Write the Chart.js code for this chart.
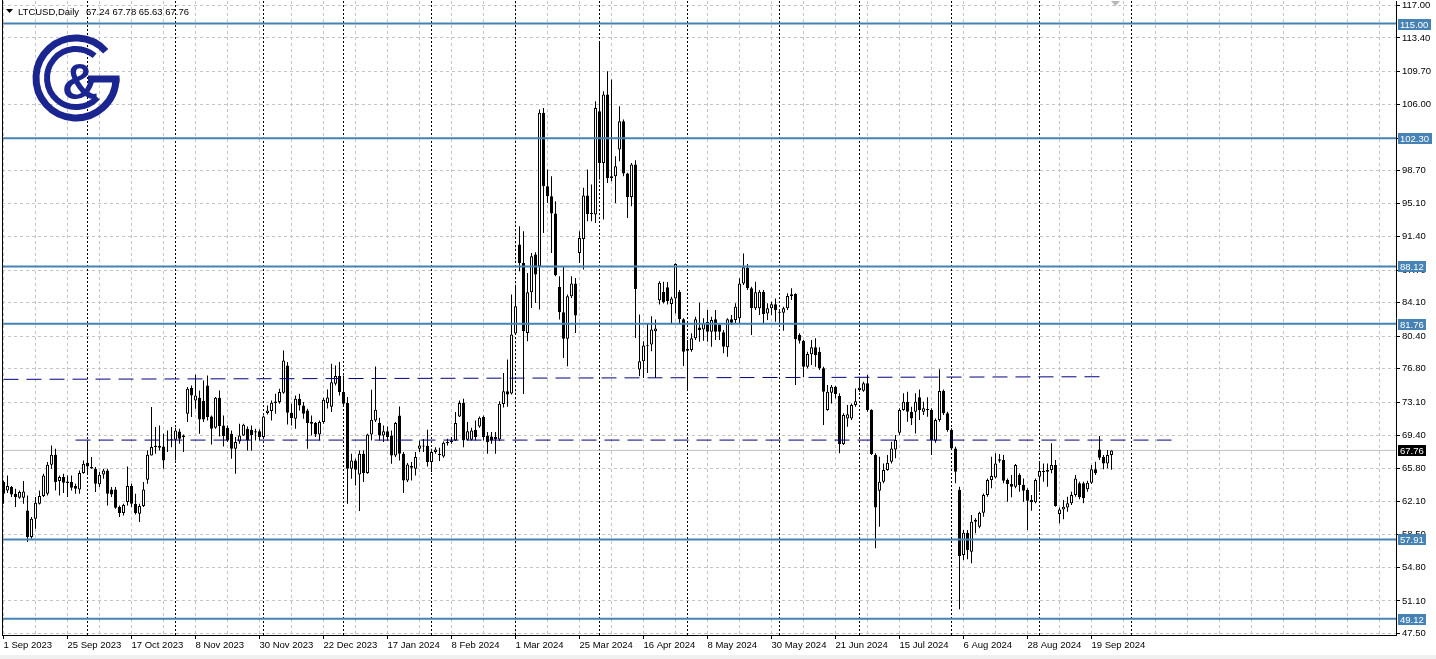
<!DOCTYPE html>
<html lang="en">
<head>
<meta charset="UTF-8">
<title>LTCUSD, Daily</title>
<script src="https://cdn.jsdelivr.net/npm/chart.js"></script>
<style>
  html, body { margin: 0; padding: 0; background: #fff; overflow: hidden; }
  canvas { display: block; }
</style>
</head>
<body>
<canvas id="chart" width="1436" height="659"></canvas>
<script>
// daily candles, 1 Sep 2023 .. 26 Sep 2024 (weekdays only)
const opens = [
  64.25,63.33,63.70,62.96,62.52,62.52,61.12,58.17,60.19,61.86,
  62.70,62.96,66.17,67.28,64.36,64.81,64.33,64.25,63.81,63.44,
  65.25,66.39,65.91,65.73,64.00,65.10,65.54,63.44,63.44,61.49,
  60.82,62.04,63.81,61.86,60.75,61.60,64.51,67.20,68.13,68.27,
  68.20,68.86,68.94,68.94,69.86,69.23,71.81,74.66,73.29,73.58,
  73.22,74.95,71.52,70.26,73.58,70.52,70.26,69.60,67.94,68.75,
  69.42,70.15,70.04,69.89,69.89,69.23,71.89,72.11,72.99,73.11,
  74.14,77.16,71.92,71.26,73.47,72.74,72.18,70.89,70.78,69.53,
  70.89,73.00,72.60,75.13,75.98,74.21,72.99,65.73,66.65,65.10,
  67.39,65.25,69.53,71.08,70.78,69.42,69.89,69.42,67.20,71.63,
  67.39,64.44,65.84,65.73,67.94,68.20,68.27,66.47,67.57,67.32,
  67.09,68.57,68.68,68.86,71.52,72.99,68.94,68.94,70.04,70.41,
  71.45,69.38,69.31,69.23,68.97,72.90,74.31,74.05,80.69,90.54,
  88.51,80.76,85.26,89.43,88.14,105.11,96.99,95.89,93.97,85.85,
  83.05,80.10,84.82,86.22,89.61,91.16,95.96,94.04,93.86,105.29,
  99.57,107.14,98.10,98.10,101.05,104.19,98.39,95.81,99.39,76.70,
  77.62,79.29,79.47,80.95,84.38,85.30,85.80,83.96,84.58,85.32,
  82.26,78.98,78.87,80.16,81.37,81.15,82.00,80.90,82.26,81.63,
  80.82,79.16,82.26,82.19,82.37,86.24,87.98,85.69,83.48,83.48,
  85.32,82.92,83.48,83.92,83.11,82.99,83.48,84.84,85.06,80.53,
  79.90,77.02,78.39,79.16,78.68,76.84,72.23,74.14,74.81,73.78,
  68.46,71.30,71.30,72.78,74.44,74.37,75.18,72.23,67.25,63.30,
  64.29,65.59,66.51,67.87,69.72,72.23,73.15,72.04,72.04,73.63,
  72.04,72.30,72.23,68.83,71.12,74.33,71.86,70.01,67.98,63.37,
  56.18,58.65,56.55,60.06,59.32,60.86,62.82,64.48,64.77,66.62,
  66.69,64.48,64.04,63.74,65.03,63.93,63.37,62.27,62.01,64.85,
  65.37,65.40,65.59,66.14,60.72,61.23,61.45,61.90,62.82,64.11,
  64.11,63.45,64.18,65.66,67.87,67.06,66.32,67.24
];
const highs = [
  64.44,64.99,63.81,63.51,63.33,64.36,62.78,60.38,62.59,63.33,
  65.17,66.47,68.31,67.94,64.99,65.17,64.99,64.99,64.07,65.54,
  66.65,68.86,67.02,65.91,65.36,65.73,65.73,63.70,63.70,61.67,
  61.86,65.99,64.07,62.96,61.86,64.25,67.76,72.55,70.34,70.52,
  69.60,69.97,70.34,70.26,70.15,69.53,74.77,74.95,76.13,74.40,
  75.50,76.06,71.63,73.66,74.40,71.63,70.52,69.97,69.23,70.71,
  70.71,70.41,70.52,70.15,70.08,71.63,72.74,73.29,74.03,74.58,
  78.82,77.53,72.92,73.84,74.03,73.11,72.37,71.63,70.89,71.08,
  73.58,74.50,77.35,77.16,77.53,76.06,73.66,67.39,66.84,67.76,
  67.76,69.60,74.47,77.05,71.37,70.52,70.41,69.97,70.89,72.63,
  67.57,66.36,66.47,67.57,68.86,69.01,70.04,67.94,68.12,68.05,
  68.75,69.05,69.23,72.00,73.29,73.47,70.89,70.26,71.08,71.52,
  71.63,69.79,69.79,69.79,73.20,76.33,77.81,85.00,85.92,92.57,
  92.01,87.40,89.61,89.69,105.48,105.66,98.84,98.10,95.33,87.03,
  88.06,85.00,87.03,86.85,92.01,96.81,98.84,97.18,106.40,112.85,
  107.51,109.72,108.80,100.31,105.85,104.37,98.47,99.57,99.87,82.79,
  79.84,81.87,82.61,82.24,86.48,86.41,86.40,84.77,88.46,85.51,
  82.37,79.97,80.71,82.56,84.10,82.37,83.29,82.56,83.29,81.82,
  81.08,82.37,82.74,84.03,86.80,89.56,88.38,85.88,86.43,85.51,
  85.51,84.03,84.21,84.58,83.29,83.66,85.14,85.69,85.14,80.71,
  79.97,78.68,79.97,80.16,79.16,77.02,74.99,74.99,74.88,74.07,
  71.86,72.78,72.96,74.62,75.91,75.36,76.10,72.30,67.43,67.06,
  66.32,67.25,68.72,69.46,72.41,74.07,74.26,72.60,74.07,74.51,
  73.15,73.63,72.41,71.30,76.73,74.51,72.04,70.20,68.17,63.74,
  58.95,58.95,60.61,60.24,60.97,63.00,64.66,67.06,67.43,67.36,
  67.25,64.66,65.03,66.25,65.22,64.66,63.56,62.82,64.66,66.51,
  66.32,66.32,68.54,66.69,61.45,62.27,62.63,63.19,65.03,64.29,
  64.29,64.40,66.14,66.51,69.35,67.25,67.80,67.78
];
const lows = [
  61.86,63.04,62.59,61.49,62.41,61.86,57.61,57.98,59.09,61.78,
  62.59,62.78,65.73,63.33,62.78,63.04,62.59,63.33,62.96,62.96,
  65.17,65.17,65.73,63.15,63.70,64.62,61.67,62.59,61.30,60.38,
  60.56,61.67,61.49,60.67,59.83,61.49,64.07,67.20,67.39,67.76,
  65.73,67.57,68.12,66.65,68.49,67.57,70.89,71.45,72.37,69.60,
  70.89,71.08,68.42,70.15,69.31,68.20,68.70,66.84,65.17,68.49,
  69.34,67.76,67.76,68.86,68.86,69.12,71.74,71.08,71.81,72.92,
  74.03,70.63,70.52,70.15,72.18,71.26,67.94,69.42,69.23,68.86,
  70.71,72.40,72.00,74.95,73.84,72.74,61.86,64.62,63.88,61.04,
  64.25,65.17,68.86,70.89,68.86,68.68,68.86,66.28,67.02,66.65,
  63.04,64.25,64.44,64.99,67.57,67.57,65.99,65.36,67.39,66.58,
  66.95,68.31,68.49,68.79,71.45,68.12,68.86,68.86,68.86,70.26,
  68.86,67.39,68.49,67.39,68.80,72.50,72.60,73.94,80.58,87.58,
  74.00,79.84,83.53,84.08,83.34,91.83,95.15,89.61,87.03,82.24,
  77.99,77.07,84.63,80.76,88.51,87.77,93.12,93.12,92.93,97.73,
  93.30,97.36,97.55,95.15,99.76,98.10,93.49,94.78,80.21,75.97,
  75.78,76.33,78.73,75.78,83.90,84.01,83.90,81.82,82.92,81.82,
  77.10,74.44,78.68,79.97,79.79,79.90,79.79,79.24,79.97,79.97,
  78.50,78.13,81.63,81.82,81.82,86.06,85.51,80.53,83.29,82.74,
  81.82,82.19,82.74,82.00,81.82,81.00,83.29,84.40,74.99,79.60,
  75.84,76.84,77.21,77.02,76.65,70.57,72.15,72.96,73.52,67.43,
  68.35,70.38,71.12,72.60,74.25,74.25,72.04,67.25,56.92,59.32,
  64.11,65.51,66.32,66.88,69.46,72.15,70.94,70.57,69.64,71.12,
  71.67,71.49,67.25,68.61,70.94,71.67,69.83,67.80,64.11,50.17,
  55.63,55.70,55.26,58.58,59.13,60.42,62.63,63.56,64.66,66.40,
  64.11,62.08,62.56,63.56,63.19,62.08,58.95,61.08,61.90,63.19,
  64.29,63.74,65.22,61.53,59.69,60.13,60.97,61.71,62.63,62.34,
  61.90,63.19,64.04,65.03,66.69,65.66,65.77,65.63
];
const closes = [
  62.96,63.81,62.89,62.59,63.15,63.22,58.17,60.19,61.97,62.70,
  64.99,66.17,67.28,64.25,64.81,64.18,64.14,63.63,63.51,65.25,
  66.28,65.99,65.76,64.07,65.06,65.54,62.96,62.89,61.41,60.82,
  61.71,63.81,61.86,60.82,61.60,63.44,67.28,68.13,68.27,68.05,
  66.65,68.94,69.01,69.97,69.05,69.42,74.58,73.84,73.84,71.19,
  71.19,71.45,70.15,73.58,70.45,69.34,68.86,67.94,68.68,69.42,
  70.60,68.86,69.45,69.75,69.23,71.52,72.18,73.03,73.18,74.21,
  77.72,71.92,71.33,73.47,72.74,71.81,70.78,70.71,69.53,70.89,
  73.36,73.60,75.30,75.98,74.21,72.92,65.73,66.65,65.62,67.39,
  65.25,69.53,71.15,72.26,69.42,69.89,69.23,67.20,70.78,67.39,
  64.44,66.21,66.02,67.02,68.31,68.27,66.47,67.57,67.87,67.24,
  68.60,68.68,68.86,70.78,72.99,68.86,69.89,69.97,69.23,71.37,
  69.23,68.68,68.86,68.97,72.92,74.31,73.94,80.58,83.71,88.51,
  80.95,85.26,89.25,87.22,105.11,96.99,95.89,93.97,87.14,83.05,
  80.10,84.82,86.22,82.68,91.27,95.96,93.93,93.93,105.66,99.57,
  107.14,97.91,97.91,99.20,104.19,98.39,95.77,99.39,85.63,77.62,
  79.36,79.36,81.13,81.24,86.30,84.16,84.30,84.58,88.38,82.26,
  78.68,78.79,80.16,82.26,81.08,81.82,80.90,82.19,80.90,80.90,
  79.24,82.26,81.89,83.66,86.24,88.02,85.69,83.48,85.25,85.32,
  82.85,83.48,83.92,83.29,82.99,83.48,84.84,85.03,80.05,79.90,
  77.02,78.42,79.16,78.31,76.84,74.25,74.25,74.81,74.00,68.46,
  71.67,71.75,72.78,73.19,74.70,75.18,72.23,67.36,61.45,64.29,
  65.59,66.40,67.98,68.91,72.23,73.15,72.04,71.30,73.15,72.23,
  72.41,72.23,68.91,71.12,74.33,71.86,70.01,67.98,65.40,56.07,
  58.65,56.73,59.87,59.87,60.86,62.82,64.48,64.92,66.32,66.77,
  64.40,64.04,63.74,66.14,63.93,63.30,62.19,62.01,64.48,65.48,
  65.48,65.59,66.14,61.60,61.23,61.53,61.90,62.82,64.66,62.56,
  62.45,64.18,65.66,65.22,66.95,66.32,67.25,67.76
];

// axis labels
const dateLabels = ['1 Sep 2023', '25 Sep 2023', '17 Oct 2023', '8 Nov 2023', '30 Nov 2023', '22 Dec 2023',
  '17 Jan 2024', '8 Feb 2024', '1 Mar 2024', '25 Mar 2024', '16 Apr 2024', '8 May 2024',
  '30 May 2024', '21 Jun 2024', '15 Jul 2024', '6 Aug 2024', '28 Aug 2024', '19 Sep 2024'];
const priceTicks = [117.00, 113.40, 109.70, 106.00, 102.30, 98.70, 95.10, 91.40, 87.70, 84.10,
  80.40, 76.80, 73.10, 69.40, 65.80, 62.10, 58.50, 54.80, 51.10, 47.50];

// first bar of each month (period separators)
const monthStarts = [21, 43, 65, 85, 107, 128, 149, 171, 194, 214, 237, 259, 282];

// horizontal levels and the two dashed lines
const levels = [115.00, 102.30, 88.12, 81.76, 57.91, 49.12];
const dashFrom = [0, 18];
const dashTo = [274, 292];
const dashStartValue = [75.62, 68.90];
const dashEndValue = [75.91, 68.90];

const symbol = 'LTCUSD,Daily';
const lastBar = opens.length - 1;
const bid = closes[lastBar];

const barsPerLabel = 16;
const barsPerGrid = 8;
const xMin = -0.375, xMax = 348.125;
const yMin = 47.33, yMax = 117.49;

const FONT = '"Liberation Sans", Arial, sans-serif';
const LEVEL_BLUE = '#4682b4';
const NAVY = '#000080';
const GRID = '#c4c4c4';

const idx = opens.map((_, i) => i);
const isUp = i => closes[i] >= opens[i];
const fmt = v => v.toFixed(2);

const datasets = [];
datasets.push({
  type: 'line', data: [{x: xMin, y: bid}, {x: xMax, y: bid}],
  borderColor: '#c0c0c0', borderWidth: 1, pointRadius: 0, order: 6
});
datasets.push({
  type: 'bar', data: idx.map(i => ({x: i, y: [lows[i], highs[i]]})),
  backgroundColor: '#000', borderWidth: 0, barThickness: 1, inflateAmount: 0,
  grouped: false, minBarLength: 1, order: 5
});
datasets.push({
  type: 'bar', data: idx.map(i => ({x: i, y: [opens[i], closes[i]]})),
  backgroundColor: c => isUp(c.dataIndex) ? '#fff' : '#000',
  borderColor: '#000', borderWidth: 1, borderSkipped: false,
  barThickness: 3, inflateAmount: 0, grouped: false, minBarLength: 1, order: 4
});
dashFrom.forEach((f, k) => {
  datasets.push({
    type: 'line', data: [{x: f, y: dashStartValue[k]}, {x: dashTo[k], y: dashEndValue[k]}],
    borderColor: NAVY, borderWidth: 1, borderDash: [15, 8], pointRadius: 0, order: 2
  });
});
levels.forEach(v => {
  datasets.push({
    type: 'line', data: [{x: xMin, y: v}, {x: xMax, y: v}],
    borderColor: LEVEL_BLUE, borderWidth: 2, pointRadius: 0, order: 1
  });
});

function drawLogo(ctx) {
  const cx = 76, cy = 78, col = '#1b2590';
  const rad = d => d * Math.PI / 180;
  ctx.save();
  ctx.strokeStyle = col;
  ctx.lineWidth = 7;
  ctx.beginPath();
  ctx.arc(cx, cy, 40, rad(-42), 0, true);
  ctx.stroke();
  ctx.beginPath();
  ctx.moveTo(cx + 12, cy + 1);
  ctx.lineTo(cx + 43.5, cy + 1);
  ctx.stroke();
  ctx.lineWidth = 6;
  ctx.beginPath();
  ctx.arc(cx, cy, 29, rad(-50), rad(42), true);
  ctx.stroke();
  ctx.fillStyle = col;
  ctx.font = 'bold 50px ' + FONT;
  ctx.textAlign = 'center';
  ctx.textBaseline = 'alphabetic';
  ctx.fillText('&', cx + 4, cy + 21);
  ctx.restore();
}

function priceBox(ctx, y, text, fill) {
  ctx.font = '9.5px ' + FONT;
  const w = Math.ceil(ctx.measureText(text).width) + 4;
  const h = 11;
  ctx.fillStyle = fill;
  ctx.fillRect(1398, Math.round(y) - 5, w, h);
  ctx.fillStyle = '#fff';
  ctx.textAlign = 'left';
  ctx.textBaseline = 'middle';
  ctx.fillText(text, 1400, Math.round(y) + 1);
}

const overlay = {
  id: 'overlay',
  beforeDatasetsDraw(chart) {
    const {ctx, chartArea: a, scales: {x}} = chart;
    ctx.save();
    ctx.strokeStyle = '#000';
    ctx.lineWidth = 1;
    ctx.setLineDash([2, 2]);
    monthStarts.forEach(i => {
      const px = Math.floor(x.getPixelForValue(i)) + 0.5;
      ctx.beginPath();
      ctx.moveTo(px, a.top);
      ctx.lineTo(px, a.bottom);
      ctx.stroke();
    });
    ctx.restore();
  },
  afterDraw(chart) {
    const {ctx, chartArea: a, scales: {y}} = chart;
    ctx.save();
    // left frame
    ctx.strokeStyle = '#000';
    ctx.lineWidth = 1;
    ctx.beginPath();
    ctx.moveTo(a.left + 0.5, 0);
    ctx.lineTo(a.left + 0.5, a.bottom);
    ctx.stroke();

    levels.forEach(v => priceBox(ctx, y.getPixelForValue(v), fmt(v), LEVEL_BLUE));
    priceBox(ctx, y.getPixelForValue(bid), fmt(bid), '#000');

    // header
    ctx.fillStyle = '#000';
    ctx.beginPath();
    ctx.moveTo(6, 9); ctx.lineTo(13, 9); ctx.lineTo(9.5, 13);
    ctx.closePath();
    ctx.fill();
    ctx.font = '9.5px ' + FONT;
    ctx.textAlign = 'left';
    ctx.textBaseline = 'alphabetic';
    ctx.fillText(symbol, 18, 14.5);
    ctx.fillText([opens[lastBar], highs[lastBar], lows[lastBar], closes[lastBar]].map(fmt).join(' '), 86, 14.5);

    // chart shift marker
    ctx.fillStyle = '#b8b8b8';
    ctx.beginPath();
    ctx.moveTo(1111, 1); ctx.lineTo(1120, 1); ctx.lineTo(1115.5, 6);
    ctx.closePath();
    ctx.fill();

    // window strip below the axis
    ctx.fillStyle = '#f0f0f0';
    ctx.fillRect(0, 655, 1436, 4);

    drawLogo(ctx);
    ctx.restore();
  }
};

new Chart(document.getElementById('chart'), {
  type: 'bar',
  data: {datasets},
  options: {
    responsive: false,
    animation: false,
    events: [],
    layout: {padding: {left: 2, top: 1, right: 0, bottom: 0}},
    plugins: {legend: {display: false}, tooltip: {enabled: false}},
    scales: {
      x: {
        type: 'linear', position: 'bottom', min: xMin, max: xMax, offset: false,
        afterBuildTicks: s => {
          s.ticks = [];
          for (let i = 0; i <= xMax; i += barsPerGrid) s.ticks.push({value: i});
        },
        afterFit: s => { s.height = 24; s.paddingLeft = 0; s.paddingRight = 0; },
        ticks: {
          autoSkip: false, maxRotation: 0, minRotation: 0, align: 'start', padding: 1,
          color: '#000', font: {family: FONT, size: 9.5},
          callback: v => (v % barsPerLabel === 0 && dateLabels[v / barsPerLabel]) || ''
        },
        grid: {
          color: GRID, offset: false, tickLength: 4, tickBorderDash: [],
          tickColor: c => (c.tick && c.tick.value % barsPerLabel === 0 && dateLabels[c.tick.value / barsPerLabel]) ? '#000' : 'rgba(0,0,0,0)'
        },
        border: {color: '#000', dash: [3, 3]}
      },
      y: {
        type: 'linear', position: 'right', min: yMin, max: yMax,
        afterBuildTicks: s => { s.ticks = priceTicks.map(v => ({value: v})); },
        afterFit: s => { s.width = 40; s.paddingTop = 0; s.paddingBottom = 0; },
        ticks: {
          autoSkip: false, padding: 2, color: '#000', font: {family: FONT, size: 9.5},
          callback: v => fmt(v)
        },
        grid: {color: GRID, tickLength: 4, tickColor: '#000', tickBorderDash: []},
        border: {color: '#000', dash: [3, 3]}
      }
    }
  },
  plugins: [overlay]
});
</script>
</body>
</html>
